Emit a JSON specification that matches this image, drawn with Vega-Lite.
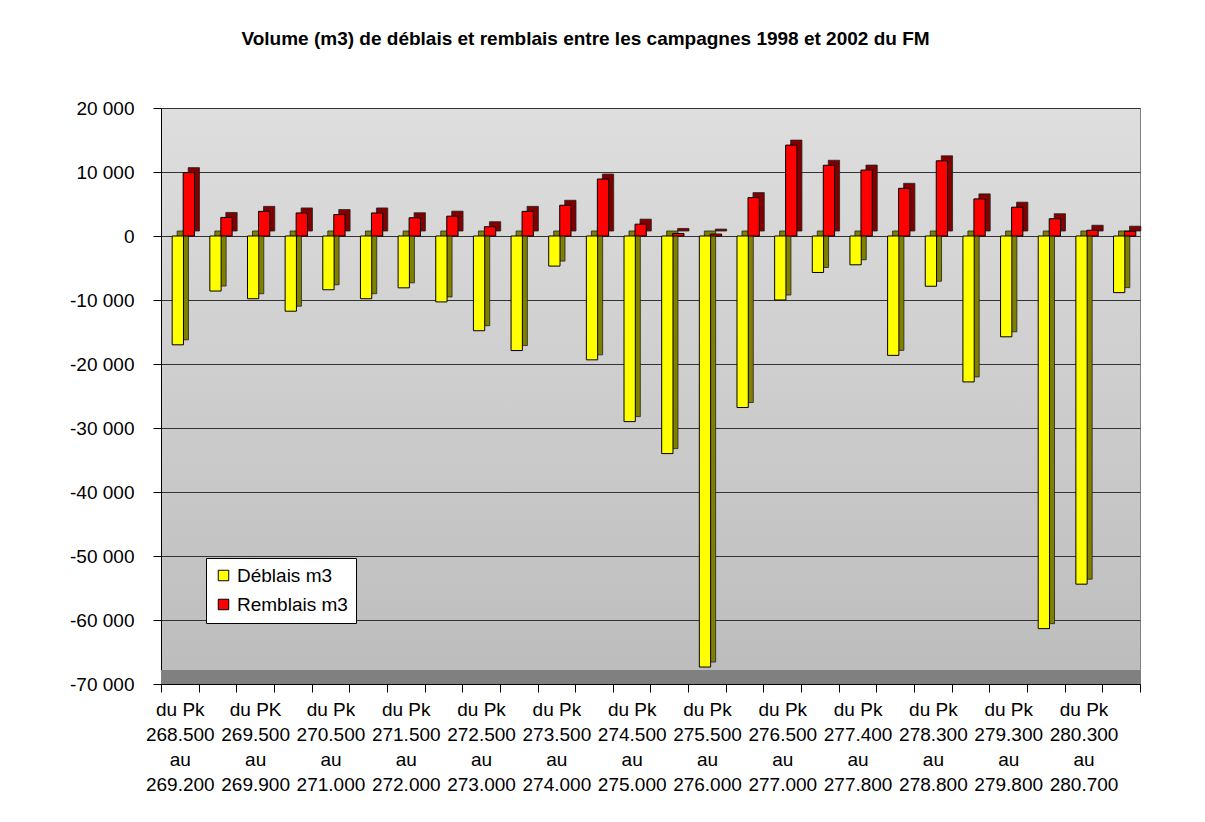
{
  "$schema": "https://vega.github.io/schema/vega-lite/v6.json",
  "width": 979,
  "height": 576,
  "padding": {"left": 69, "top": 30, "right": 60, "bottom": 20},
  "background": "white",
  "title": {
    "text": "Volume (m3) de déblais et remblais entre les campagnes 1998 et 2002 du FM",
    "font": "Liberation Sans",
    "fontSize": 19,
    "fontWeight": "bold",
    "color": "#000000",
    "anchor": "middle",
    "dx": -65,
    "offset": 50
  },
  "data": {
    "values": [
      {"pk": "du Pk|268.500|au|269.200", "serie": "Déblais m3", "v": -17000},
      {"pk": "du Pk|268.500|au|269.200", "serie": "Remblais m3", "v": 9900},
      {"pk": "du Pk|269.200|au|269.500", "serie": "Déblais m3", "v": -8600},
      {"pk": "du Pk|269.200|au|269.500", "serie": "Remblais m3", "v": 2900},
      {"pk": "du PK|269.500|au|269.900", "serie": "Déblais m3", "v": -9800},
      {"pk": "du PK|269.500|au|269.900", "serie": "Remblais m3", "v": 3850},
      {"pk": "du Pk|269.900|au|270.500", "serie": "Déblais m3", "v": -11750},
      {"pk": "du Pk|269.900|au|270.500", "serie": "Remblais m3", "v": 3600},
      {"pk": "du Pk|270.500|au|271.000", "serie": "Déblais m3", "v": -8400},
      {"pk": "du Pk|270.500|au|271.000", "serie": "Remblais m3", "v": 3350},
      {"pk": "du Pk|271.000|au|271.500", "serie": "Déblais m3", "v": -9800},
      {"pk": "du Pk|271.000|au|271.500", "serie": "Remblais m3", "v": 3600},
      {"pk": "du Pk|271.500|au|272.000", "serie": "Déblais m3", "v": -8100},
      {"pk": "du Pk|271.500|au|272.000", "serie": "Remblais m3", "v": 2850},
      {"pk": "du Pk|272.000|au|272.500", "serie": "Déblais m3", "v": -10300},
      {"pk": "du Pk|272.000|au|272.500", "serie": "Remblais m3", "v": 3100},
      {"pk": "du Pk|272.500|au|273.000", "serie": "Déblais m3", "v": -14800},
      {"pk": "du Pk|272.500|au|273.000", "serie": "Remblais m3", "v": 1450},
      {"pk": "du Pk|273.000|au|273.500", "serie": "Déblais m3", "v": -17900},
      {"pk": "du Pk|273.000|au|273.500", "serie": "Remblais m3", "v": 3850},
      {"pk": "du Pk|273.500|au|274.000", "serie": "Déblais m3", "v": -4700},
      {"pk": "du Pk|273.500|au|274.000", "serie": "Remblais m3", "v": 4800},
      {"pk": "du Pk|274.000|au|274.500", "serie": "Déblais m3", "v": -19350},
      {"pk": "du Pk|274.000|au|274.500", "serie": "Remblais m3", "v": 8900},
      {"pk": "du Pk|274.500|au|275.000", "serie": "Déblais m3", "v": -29000},
      {"pk": "du Pk|274.500|au|275.000", "serie": "Remblais m3", "v": 1850},
      {"pk": "du Pk|275.000|au|275.500", "serie": "Déblais m3", "v": -34000},
      {"pk": "du Pk|275.000|au|275.500", "serie": "Remblais m3", "v": 400},
      {"pk": "du Pk|275.500|au|276.000", "serie": "Déblais m3", "v": -67350},
      {"pk": "du Pk|275.500|au|276.000", "serie": "Remblais m3", "v": 300},
      {"pk": "du Pk|276.000|au|276.500", "serie": "Déblais m3", "v": -26800},
      {"pk": "du Pk|276.000|au|276.500", "serie": "Remblais m3", "v": 6000},
      {"pk": "du Pk|276.500|au|277.000", "serie": "Déblais m3", "v": -10000},
      {"pk": "du Pk|276.500|au|277.000", "serie": "Remblais m3", "v": 14200},
      {"pk": "du Pk|277.000|au|277.400", "serie": "Déblais m3", "v": -5700},
      {"pk": "du Pk|277.000|au|277.400", "serie": "Remblais m3", "v": 11050},
      {"pk": "du Pk|277.400|au|277.800", "serie": "Déblais m3", "v": -4500},
      {"pk": "du Pk|277.400|au|277.800", "serie": "Remblais m3", "v": 10300},
      {"pk": "du Pk|277.800|au|278.300", "serie": "Déblais m3", "v": -18650},
      {"pk": "du Pk|277.800|au|278.300", "serie": "Remblais m3", "v": 7450},
      {"pk": "du Pk|278.300|au|278.800", "serie": "Déblais m3", "v": -7850},
      {"pk": "du Pk|278.300|au|278.800", "serie": "Remblais m3", "v": 11750},
      {"pk": "du Pk|278.800|au|279.300", "serie": "Déblais m3", "v": -22800},
      {"pk": "du Pk|278.800|au|279.300", "serie": "Remblais m3", "v": 5800},
      {"pk": "du Pk|279.300|au|279.800", "serie": "Déblais m3", "v": -15750},
      {"pk": "du Pk|279.300|au|279.800", "serie": "Remblais m3", "v": 4500},
      {"pk": "du Pk|279.800|au|280.300", "serie": "Déblais m3", "v": -61350},
      {"pk": "du Pk|279.800|au|280.300", "serie": "Remblais m3", "v": 2700},
      {"pk": "du Pk|280.300|au|280.700", "serie": "Déblais m3", "v": -54400},
      {"pk": "du Pk|280.300|au|280.700", "serie": "Remblais m3", "v": 900},
      {"pk": "du Pk|280.700|au|281.000", "serie": "Déblais m3", "v": -8850},
      {"pk": "du Pk|280.700|au|281.000", "serie": "Remblais m3", "v": 750}
    ]
  },
  "encoding": {
    "x": {
      "field": "pk",
      "type": "nominal",
      "sort": null,
      "scale": {"paddingInner": 0, "paddingOuter": 0},
      "axis": {
        "title": null,
        "labelAngle": 0,
        "tickBand": "extent",
        "labelExpr": "round(datum.index * 25) % 2 == 0 ? split(datum.value, '|') : ''",
        "labelLineHeight": 25,
        "labelPadding": 8,
        "tickSize": 8,
        "labelBaseline": "top"
      }
    },
    "y": {
      "field": "v",
      "type": "quantitative",
      "scale": {"domain": [-70000, 20000], "nice": false, "zero": false},
      "axis": {
        "title": null,
        "values": [-70000, -60000, -50000, -40000, -30000, -20000, -10000, 0, 10000, 20000],
        "labelExpr": "(datum.value < 0 ? '-' : '') + replace(format(abs(datum.value), ','), ',', ' ')",
        "tickSize": 8,
        "labelPadding": 19,
        "grid": true,
        "gridColor": "#333333",
        "gridWidth": 1
      }
    }
  },
  "layer": [
    {
      "mark": {"type": "rect", "fill": "#808080"},
      "encoding": {
        "x": null,
        "y": {"datum": -70000},
        "y2": {"datum": -67900}
      }
    },
    {
      "transform": [{"filter": "datum.serie == 'Déblais m3'"}],
      "mark": {"type": "bar", "width": {"band": 0.3}, "xOffset": 3, "yOffset": -5, "fill": "#808000", "stroke": "#222222", "strokeWidth": 0.8},
      "encoding": {}
    },
    {
      "transform": [{"filter": "datum.serie == 'Déblais m3'"}],
      "mark": {"type": "bar", "width": {"band": 0.3}, "xOffset": -2, "stroke": "#000000", "strokeWidth": 1},
      "encoding": {
        "color": {"field": "serie", "type": "nominal", "scale": {"domain": ["Déblais m3", "Remblais m3"], "range": ["#FFFF00", "#FF0000"]}}
      }
    },
    {
      "transform": [{"filter": "datum.serie == 'Remblais m3'"}],
      "mark": {"type": "bar", "width": {"band": 0.3}, "xOffset": 14, "yOffset": -5, "fill": "#800000", "stroke": "#222222", "strokeWidth": 0.8},
      "encoding": {}
    },
    {
      "transform": [{"filter": "datum.serie == 'Remblais m3'"}],
      "mark": {"type": "bar", "width": {"band": 0.3}, "xOffset": 9, "stroke": "#000000", "strokeWidth": 1},
      "encoding": {
        "color": {
          "field": "serie",
          "type": "nominal",
          "scale": {"domain": ["Déblais m3", "Remblais m3"], "range": ["#FFFF00", "#FF0000"]},
          "legend": {
            "title": null,
            "orient": "none",
            "legendX": 45,
            "legendY": 450,
            "fillColor": "#FFFFFF",
            "strokeColor": "#000000",
            "padding": 8,
            "symbolType": "square",
            "symbolSize": 110,
            "symbolStrokeColor": "#000000",
            "symbolStrokeWidth": 1,
            "labelFontSize": 19,
            "labelFont": "Liberation Sans",
            "labelColor": "#000000",
            "rowPadding": 9,
            "labelOffset": 4
          }
        }
      }
    }
  ],
  "config": {
    "view": {
      "fill": {
        "gradient": "linear",
        "x1": 0, "y1": 0, "x2": 0, "y2": 1,
        "stops": [{"offset": 0, "color": "#dedede"}, {"offset": 1, "color": "#bcbcbc"}]
      },
      "stroke": "#808080"
    },
    "axis": {
      "labelFont": "Liberation Sans",
      "labelFontSize": 19,
      "labelColor": "#000000",
      "domainColor": "#000000",
      "tickColor": "#000000"
    }
  }
}
